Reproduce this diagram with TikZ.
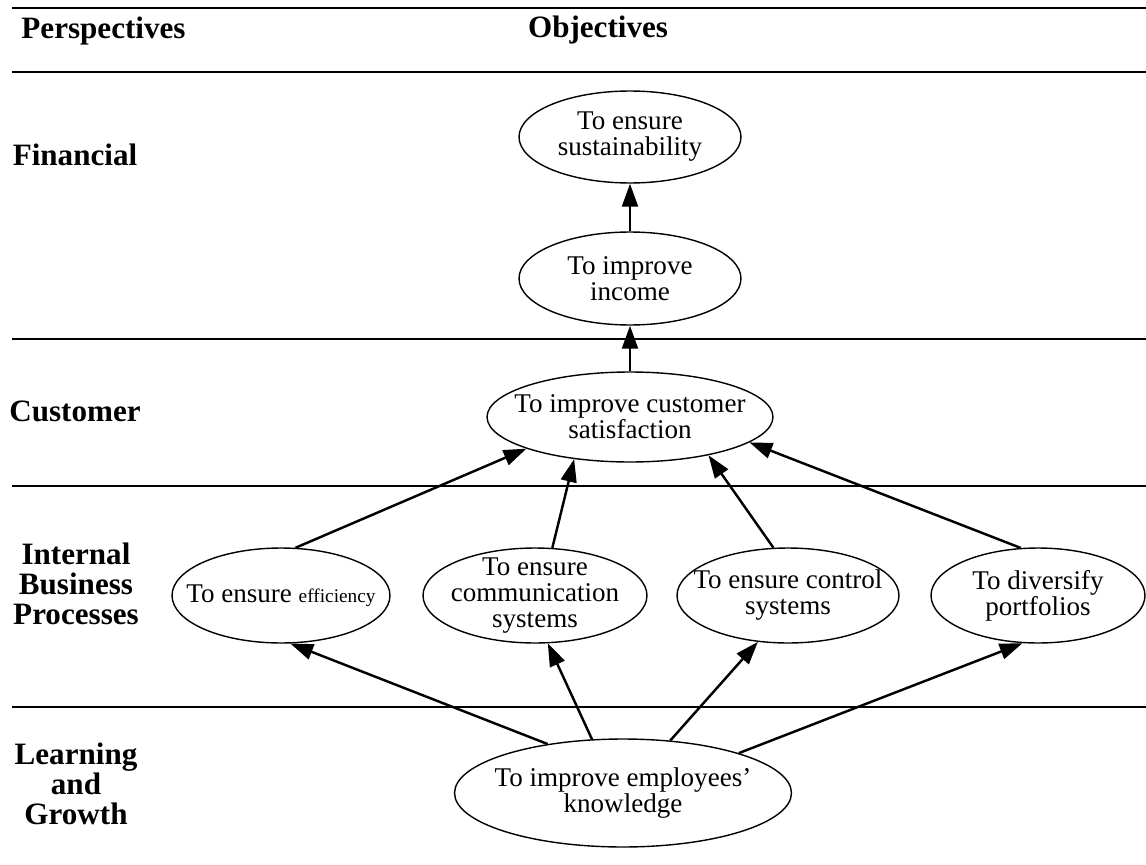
\documentclass[tikz,border=0pt]{standalone}
\usepackage{fontspec}
\setmainfont{Liberation Serif}
\usetikzlibrary{shapes.geometric}
\usetikzlibrary{arrows.meta}
\tikzset{
   every path/.style={>={Triangle[length=13pt,width=9pt]}},
   obj/.style={ellipse,draw,line width=0.8pt,align=center,inner xsep=-12pt,inner ysep=-6pt,
     font=\fontsize{15.4}{14.8}\selectfont},
   persp/.style={align=center,font=\fontsize{17.7}{17.2}\selectfont\bfseries},
   link/.style={->,line width=1.4pt},
   rule/.style={line width=1pt},
}
\newcommand{\smalltxt}[1]{{\fontsize{11}{12}\selectfont #1}}

\begin{document}
\begin{tikzpicture}[x=0.02cm, y=-0.02cm]
  \useasboundingbox (0,0) rectangle (1146,865);

  % horizontal rules
  \foreach \y in {8,72,339,486,707}
    \draw[rule] (12,\y) -- (1146,\y);

  % headings and perspectives
  \node[persp,anchor=base] (hpersp) at (103.5,39) {Perspectives};
  \node[persp,anchor=base] (hobj)   at (598,38)   {Objectives};
  \node[persp,anchor=base] (pfin)   at (75,165)   {Financial};
  \node[persp,anchor=base] (pcus)   at (75,421)   {Customer};
  \node[persp]             (pibp)   at (76,584)   {Internal\\Business\\Processes};
  \node[persp]             (plg)    at (76,784)   {Learning\\and\\Growth};

  % objectives
  \node[obj,minimum width=4.44cm,minimum height=1.84cm] (sust) at (630,137) {To ensure\\sustainability};
  \node[obj,minimum width=4.44cm,minimum height=1.86cm] (inc)  at (630,278.5) {To improve\\income};
  \node[obj,minimum width=5.72cm,minimum height=1.80cm] (cust) at (630,417) {To improve customer\\satisfaction};

  \node[obj,minimum width=4.36cm,minimum height=1.90cm] (eff)  at (281,595.5)  {To ensure \smalltxt{efficiency}};
  \node[obj,minimum width=4.48cm,minimum height=1.90cm] (comm) at (535,595.5)  {To ensure\\communication\\systems};
  \node[obj,minimum width=4.44cm,minimum height=1.90cm] (ctrl) at (788,595.5)  {To ensure control\\systems};
  \node[obj,minimum width=4.28cm,minimum height=1.90cm] (div)  at (1038,595.5) {To diversify\\portfolios};

  \node[obj,minimum width=6.74cm,minimum height=2.16cm] (know) at (623,793) {To improve employees’\\knowledge};

  % cause and effect links
  \draw[link] (inc.north)  -- (sust.south);
  \draw[link] (cust.north) -- (inc.south);

  \draw[link] (eff.73.6)   -- (cust.197.6);
  \draw[link] (comm.70)    -- (cust.217);
  \draw[link] (ctrl.107.5) -- (cust.334.3);
  \draw[link] (div.110.8)  -- (cust.348.6);

  \draw[link] (know.147) -- (eff.281);
  \draw[link] (know.120) -- (comm.285);
  \draw[link] (know.48)  -- (ctrl.237.8);
  \draw[link] (know.19)  -- (div.252);
\end{tikzpicture}
\end{document}
